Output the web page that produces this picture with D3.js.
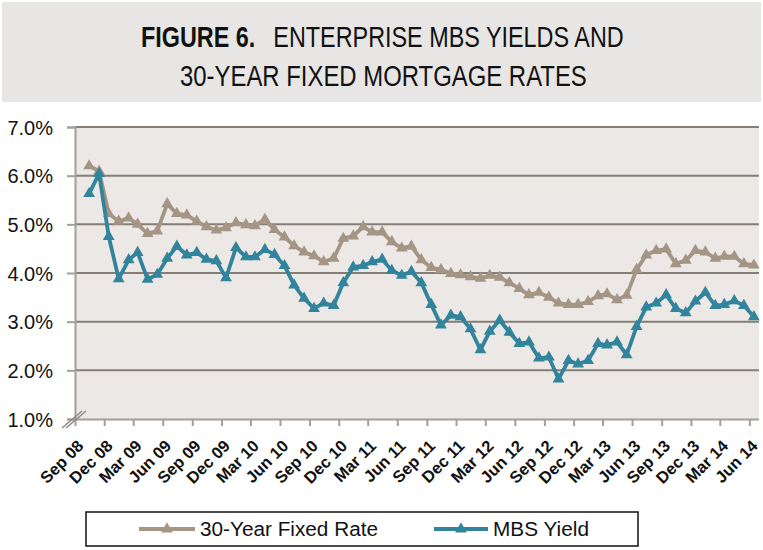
<!DOCTYPE html>
<html>
<head>
<meta charset="utf-8">
<script src="https://cdn.jsdelivr.net/npm/d3@7"></script>
<style>
  html, body { margin: 0; padding: 0; background: #ffffff; }
  svg { display: block; }
</style>
</head>
<body>
<svg id="chart" width="763" height="550"></svg>
<script>
// ---- data ----
const firstMonth = "2008-10";   // first monthly observation (Oct 2008)
const fixedRate = [6.20, 6.09, 5.22,
  5.06, 5.13, 5.00, 4.81, 4.86, 5.42, 5.22, 5.19, 5.06, 4.95, 4.88, 4.93,
  5.03, 4.99, 4.97, 5.10, 4.89, 4.74, 4.56, 4.43, 4.35, 4.23, 4.30, 4.71,
  4.76, 4.95, 4.84, 4.84, 4.64, 4.51, 4.55, 4.27, 4.11, 4.07, 3.99, 3.96,
  3.92, 3.89, 3.95, 3.91, 3.80, 3.68, 3.55, 3.60, 3.50, 3.38, 3.35, 3.35,
  3.41, 3.53, 3.57, 3.45, 3.54, 4.07, 4.37, 4.46, 4.49, 4.19, 4.26, 4.46,
  4.43, 4.30, 4.34, 4.34, 4.19, 4.16];
const mbsYield = [5.63, 6.04, 4.75,
  3.88, 4.27, 4.42, 3.87, 3.97, 4.30, 4.55, 4.37, 4.42, 4.28, 4.25, 3.90,
  4.52, 4.33, 4.33, 4.48, 4.38, 4.15, 3.75, 3.48, 3.27, 3.38, 3.33, 3.80,
  4.12, 4.15, 4.23, 4.28, 4.05, 3.95, 4.03, 3.80, 3.35, 2.93, 3.13, 3.10,
  2.85, 2.42, 2.80, 3.03, 2.78, 2.55, 2.58, 2.25, 2.27, 1.82, 2.20, 2.13,
  2.20, 2.55, 2.52, 2.58, 2.32, 2.90, 3.30, 3.38, 3.55, 3.27, 3.18, 3.42,
  3.60, 3.33, 3.35, 3.43, 3.33, 3.10];
const xTickLabels = ["Sep 08","Dec 08","Mar 09","Jun 09","Sep 09","Dec 09","Mar 10","Jun 10",
  "Sep 10","Dec 10","Mar 11","Jun 11","Sep 11","Dec 11","Mar 12","Jun 12","Sep 12","Dec 12",
  "Mar 13","Jun 13","Sep 13","Dec 13","Mar 14","Jun 14"];
const yTicks = [1, 2, 3, 4, 5, 6, 7];
const seriesNames = ["30-Year Fixed Rate", "MBS Yield"];
const titleBold = "FIGURE 6.";
const titleRest = "ENTERPRISE MBS YIELDS AND";
const titleLine2 = "30-YEAR FIXED MORTGAGE RATES";

// ---- layout / style ----
const colors = { fixed: "#a59584", mbs: "#31849b" };
const plot = { left: 75, right: 759, top: 127, bottom: 419 };
const font = "'Liberation Sans', Arial, sans-serif";

const svg = d3.select("#chart");

// title box
svg.append("rect").attr("x", 2).attr("y", 2).attr("width", 759).attr("height", 100)
  .attr("fill", "#e8e6e4");

// title line 1 (bold + normal parts in one text, squeezed horizontally to fit)
const t1 = svg.append("text").attr("font-family", font).attr("font-size", 29).attr("fill", "#111");
const tb = t1.append("tspan").attr("font-weight", "bold").text(titleBold);
const tr = t1.append("tspan").text(titleRest);
const wb = tb.node().getComputedTextLength(), wr = tr.node().getComputedTextLength();
const gap = 18, s1 = (483 - gap) / (wb + wr);
tr.attr("dx", gap / s1);
t1.attr("transform", `translate(141,47) scale(${s1},1)`);

const t2 = svg.append("text").attr("font-family", font).attr("font-size", 29).attr("fill", "#111")
  .text(titleLine2);
const s2 = 407 / t2.node().getComputedTextLength();
t2.attr("transform", `translate(180,86) scale(${s2},1)`);

// scales
const parseTick = d3.timeParse("%b %y");
const tickDates = xTickLabels.map(parseTick);
const start = d3.timeParse("%Y-%m")(firstMonth);
const months = d3.timeMonth.range(start, d3.timeMonth.offset(start, fixedRate.length));
const pointDates = months.map(m => new Date(m.getFullYear(), m.getMonth(), 15));

const x = d3.scaleTime()
  .domain([tickDates[0], d3.timeMonth.offset(tickDates[tickDates.length - 1], 1)])
  .range([plot.left, plot.right]);
const y = d3.scaleLinear().domain([1, 7]).range([plot.bottom, plot.top]);

// plot background
svg.append("rect").attr("x", plot.left).attr("y", plot.top)
  .attr("width", plot.right - plot.left).attr("height", plot.bottom - plot.top)
  .attr("fill", "#ebe8e5");

// gridlines
svg.append("g").selectAll("line").data(yTicks.filter(d => d > 1)).join("line")
  .attr("x1", plot.left).attr("x2", plot.right)
  .attr("y1", d => y(d)).attr("y2", d => y(d))
  .attr("stroke", "#857e77").attr("stroke-width", 2);

// y axis
const yAxis = svg.append("g").attr("transform", `translate(${plot.left},0)`)
  .call(d3.axisLeft(y).tickValues(yTicks).tickSize(8).tickPadding(14)
    .tickFormat(d => d3.format(".1f")(d) + "%"));
yAxis.select(".domain").attr("stroke", "#a39e99").attr("stroke-width", 2);
yAxis.selectAll(".tick line").attr("stroke", "#a39e99").attr("stroke-width", 2);
yAxis.selectAll(".tick text").attr("font-family", font).attr("font-size", 20)
  .attr("fill", "#111").attr("dy", "0.35em");

// x axis
const xAxis = svg.append("g").attr("transform", `translate(0,${plot.bottom})`)
  .call(d3.axisBottom(x).tickValues(tickDates).tickSize(7).tickSizeOuter(0)
    .tickFormat((d, i) => xTickLabels[i]));
xAxis.select(".domain").attr("stroke", "#a39e99").attr("stroke-width", 2)
  .attr("d", `M${plot.left},0.5H${plot.right}`);
xAxis.selectAll(".tick line").attr("stroke", "#a39e99").attr("stroke-width", 2);
xAxis.selectAll(".tick text")
  .attr("font-family", font).attr("font-size", 16.5).attr("font-weight", "bold").attr("fill", "#111")
  .attr("text-anchor", "end").attr("y", 0).attr("dy", 0)
  .attr("transform", "translate(9,28) rotate(-45)");

// axis break marks
const brk = svg.append("g").attr("stroke", "#8f8a85").attr("stroke-width", 1.6);
[0, 4].forEach(o => brk.append("line")
  .attr("x1", 62 + o).attr("y1", 428).attr("x2", 82 + o).attr("y2", 411));

// series
const series = [
  { key: "fixed", values: fixedRate },
  { key: "mbs", values: mbsYield }
];
const line = d3.line().x(d => x(d.date)).y(d => y(d.v));
const tri = d3.symbol().type(d3.symbolTriangle).size(60);
series.forEach(s => {
  const pts = s.values.map((v, i) => ({ date: pointDates[i], v }));
  svg.append("path").datum(pts).attr("d", line).attr("fill", "none")
    .attr("stroke", colors[s.key]).attr("stroke-width", 3.8).attr("stroke-linejoin", "round");
  svg.append("g").selectAll("path").data(pts).join("path")
    .attr("d", tri).attr("transform", d => `translate(${x(d.date)},${y(d.v)})`)
    .attr("fill", colors[s.key]);
});

// legend
const lg = svg.append("g");
lg.append("rect").attr("x", 86).attr("y", 512).attr("width", 552).attr("height", 34)
  .attr("fill", "#fff").attr("stroke", "#111").attr("stroke-width", 1.5);
const legendItems = [
  { key: "fixed", name: seriesNames[0], x1: 139, x2: 195, tx: 200, tw: 178 },
  { key: "mbs", name: seriesNames[1], x1: 434, x2: 488, tx: 493, tw: 96 }
];
legendItems.forEach(it => {
  lg.append("line").attr("x1", it.x1).attr("x2", it.x2).attr("y1", 529).attr("y2", 529)
    .attr("stroke", colors[it.key]).attr("stroke-width", 3.8);
  lg.append("path").attr("d", tri).attr("transform", `translate(${(it.x1 + it.x2) / 2},529)`)
    .attr("fill", colors[it.key]);
  lg.append("text").attr("x", it.tx).attr("y", 536).text(it.name)
    .attr("font-family", font).attr("font-size", 20).attr("fill", "#111")
    .attr("textLength", it.tw).attr("lengthAdjust", "spacingAndGlyphs");
});
</script>
</body>
</html>
